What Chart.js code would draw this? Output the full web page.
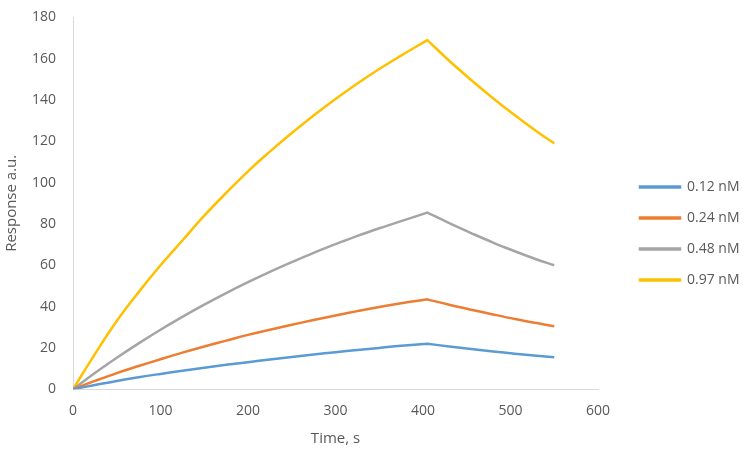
<!DOCTYPE html>
<html>
<head>
<meta charset="utf-8">
<script src="https://cdn.jsdelivr.net/npm/chart.js@4/dist/chart.umd.min.js"></script>
<style>
  body { margin: 0; background: #fff; }
</style>
</head>
<body>
<canvas id="kinChart" width="747" height="451"></canvas>
<script>
// tempo (s) e respostas lidas do gráfico
// o pico (405 s) aparece duas vezes para manter o bico entre associação e dissociação
var timeS   = [0, 25, 50, 75, 100, 125, 150, 175, 200, 225, 250, 275, 300, 325, 350, 375, 405, 405, 430, 455, 480, 505, 530, 550];
var conc012 = [0, 2, 4, 5.8, 7.4, 8.9, 10.4, 11.8, 13.1, 14.4, 15.6, 16.8, 17.9, 19, 20, 21, 22, 22, 20.7, 19.5, 18.3, 17.2, 16.2, 15.5];
var conc024 = [0, 4, 7.8, 11.2, 14.5, 17.7, 20.7, 23.5, 26.3, 28.8, 31.2, 33.5, 35.7, 37.8, 39.8, 41.6, 43.5, 43.5, 40.9, 38.5, 36.2, 34, 32, 30.5];
var conc048 = [0, 7.8, 15.2, 22.2, 28.8, 35, 40.9, 46.5, 51.8, 56.8, 61.5, 66, 70.2, 74.2, 77.9, 81.4, 85.5, 85.5, 80.4, 75.6, 71, 66.8, 62.8, 60];
var conc097 = [0, 17, 33, 47, 60, 72, 84, 95, 105.5, 115, 124, 132.5, 140.5, 148, 155, 161.5, 169, 169, 159, 149.7, 140.9, 132.6, 124.8, 119];
var seriesNames = ["0.12 nM", "0.24 nM", "0.48 nM", "0.97 nM"];
var xTicks = [0, 100, 200, 300, 400, 500, 600];
var yTicks = [0, 20, 40, 60, 80, 100, 120, 140, 160, 180];

var colors = ["#5b9bd5", "#ed7d31", "#a5a5a5", "#ffc000"];
var allSeries = [conc012, conc024, conc048, conc097];

function pts(vals) {
  return timeS.map(function (t, i) { return { x: t, y: vals[i] }; });
}

var fontFam = "'Open Sans', sans-serif";
var txtColor = "#595959";

var kinChart = new Chart(document.getElementById('kinChart'), {
  type: 'line',
  data: {
    datasets: allSeries.map(function (s, i) {
      return {
        label: seriesNames[i],
        data: pts(s),
        borderColor: colors[i],
        backgroundColor: colors[i],
        borderWidth: 2.5,
        pointRadius: 0,
        tension: 0.4,
        fill: false
      };
    })
  },
  options: {
    responsive: false,
    animation: false,
    layout: { padding: { left: 3, right: 0, top: 7, bottom: 3 } },
    scales: {
      x: {
        type: 'linear',
        min: 0, max: 600,
        afterBuildTicks: function (ax) { ax.ticks = xTicks.map(function (v) { return { value: v }; }); },
        grid: { display: false },
        border: { color: '#d9d9d9', width: 1 },
        ticks: { color: txtColor, font: { family: fontFam, size: 14 }, padding: 5 },
        title: { display: true, text: 'Time, s', color: txtColor, font: { family: fontFam, size: 15 }, padding: { top: 6, bottom: 0 } }
      },
      y: {
        min: 0, max: 180,
        afterBuildTicks: function (ax) { ax.ticks = yTicks.map(function (v) { return { value: v }; }); },
        grid: { display: false },
        border: { color: '#d9d9d9', width: 1 },
        ticks: { color: txtColor, font: { family: fontFam, size: 14 }, padding: 9 },
        title: { display: true, text: 'Response a.u.', color: txtColor, font: { family: fontFam, size: 15 }, padding: { top: 0, bottom: 2 } }
      },
      // eixo vazio só para abrir espaço entre o gráfico e a legenda
      gap: {
        position: 'right',
        min: 0, max: 1,
        grid: { display: false },
        border: { display: false },
        ticks: { display: false },
        afterFit: function (ax) { ax.width = 25; }
      }
    },
    plugins: {
      legend: {
        position: 'right',
        title: { display: true, text: ' ', padding: { top: 0, bottom: 0 }, font: { size: 10 } },
        labels: {
          boxWidth: 40,
          boxHeight: 1,
          padding: 17,
          color: txtColor,
          font: { family: fontFam, size: 14 }
        }
      },
      tooltip: { enabled: false }
    }
  }
});
</script>
</body>
</html>
